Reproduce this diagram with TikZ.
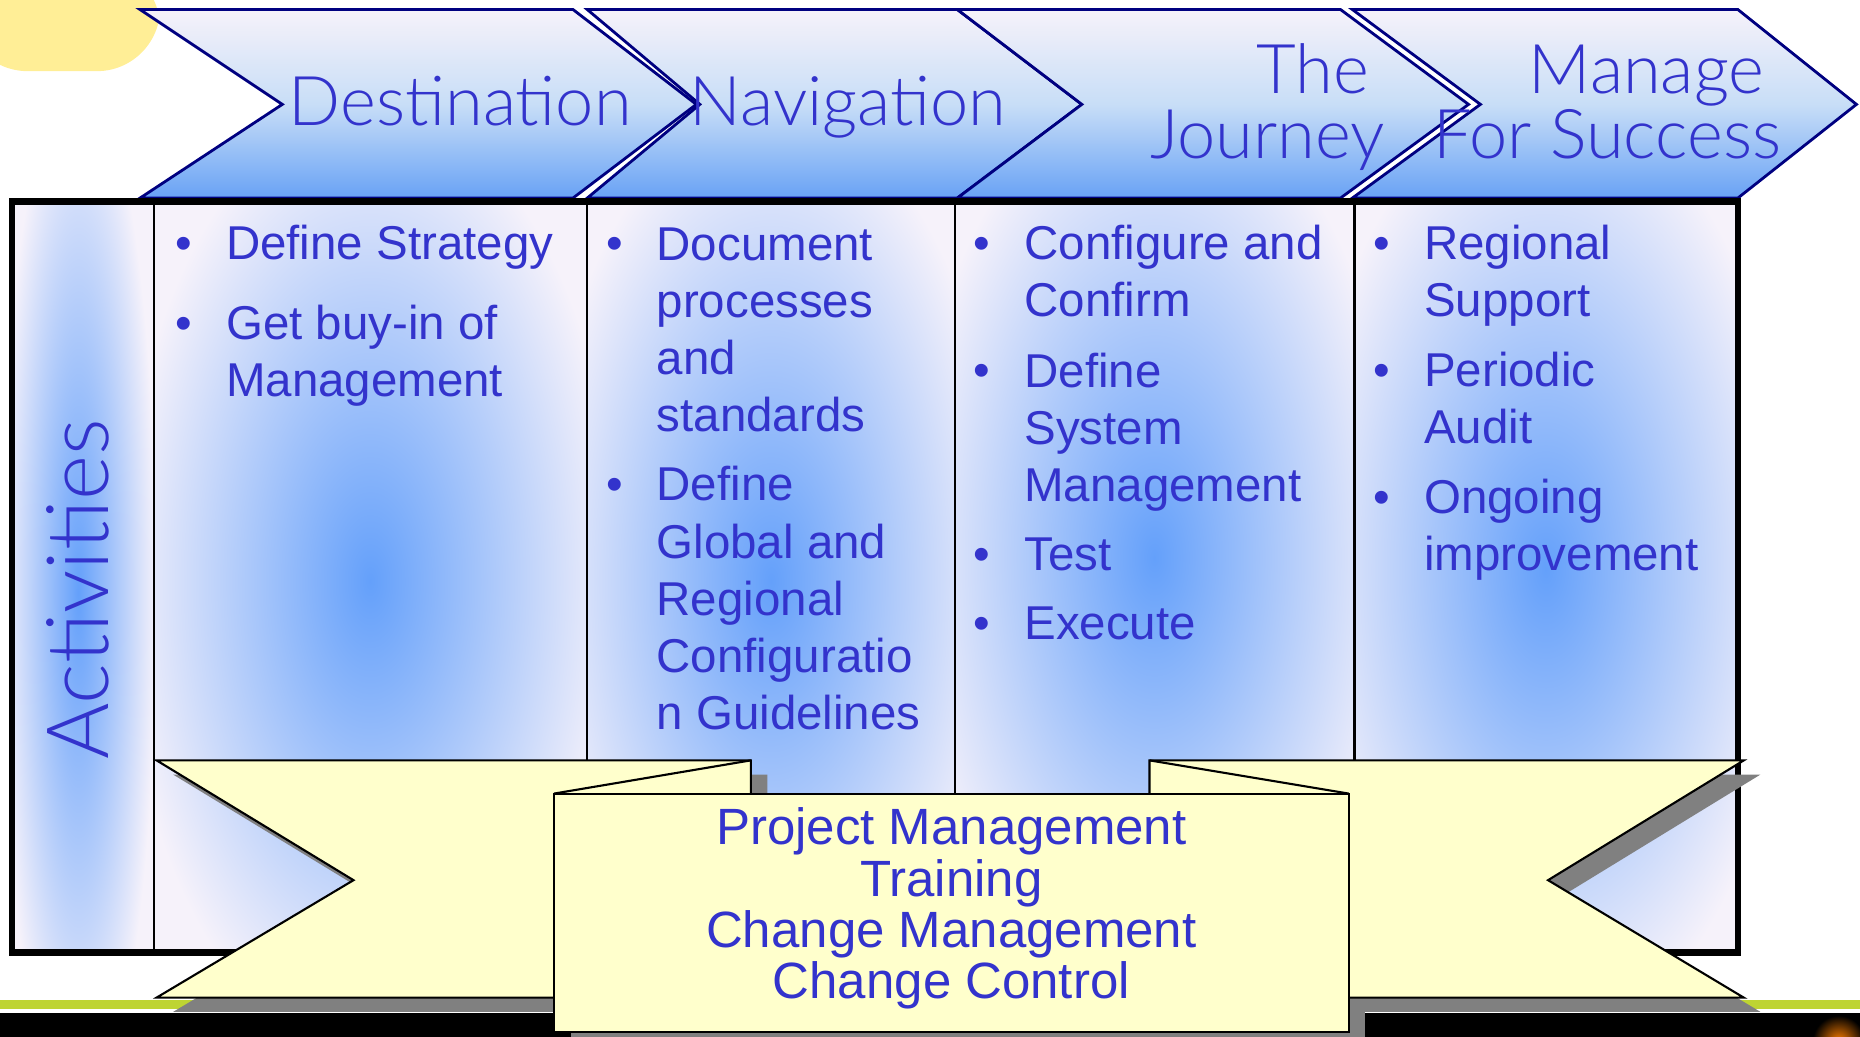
\documentclass[tikz,border=0pt]{standalone}
\usepackage{fontspec}
\setmainfont{Liberation Sans}
\newfontfamily\lightfont{Lato Light}
\usetikzlibrary{positioning}

\definecolor{txtblue}{RGB}{51,51,204}
\definecolor{navyline}{RGB}{0,0,128}
\definecolor{lav}{RGB}{246,242,250}
\definecolor{blob}{RGB}{100,160,250}
\definecolor{chevmid}{RGB}{200,222,247}
\definecolor{chevbot}{RGB}{105,162,245}
\definecolor{ribbonyellow}{RGB}{255,255,204}
\definecolor{shadowgray}{RGB}{128,128,128}
\definecolor{stripe}{RGB}{190,212,50}
\definecolor{sand}{RGB}{255,238,150}

\begin{document}
\begin{tikzpicture}[x=0.011862cm,y=-0.011862cm,
  chev/.style={draw=navyline,line width=0.8pt,top color=lav,bottom color=chevbot,middle color=chevmid},
  headtext/.style={text=txtblue,font=\lightfont\fontsize{19.5}{19.5}\selectfont,inner sep=0pt},
  itemtext/.style={text=txtblue,font=\fontsize{13.5}{16.25}\selectfont,align=left,anchor=base west,inner sep=0pt},
  bul/.style={text=txtblue,font=\fontsize{13.5}{16.25}\selectfont,anchor=base,inner sep=0pt},
  boxtext/.style={text=txtblue,font=\fontsize{14.5}{14.6}\selectfont,align=center,inner sep=0pt},
  ribbon/.style={fill=ribbonyellow,draw=black,line width=0.6pt},
  ribshadow/.style={fill=shadowgray,shift={(14,12)}}]

\useasboundingbox (0,0) rectangle (1568,874);
\fill[sand,rounded corners=18] (-30,-30) rectangle (135,60);

\foreach \l/\n/\r/\t in {118/238/483/587,495/590/807/912,807/912/1130/1238,1140/1248/1465/1565}
  \draw[chev] (\l,8) -- (\r,8) -- (\t,88) -- (\r,167) -- (\l,167) -- (\n,88) -- cycle;

\node[headtext,anchor=base] (dest) at (388,106) {Destination};
\node[headtext,anchor=base] (nav) at (715,106) {Navigation};
\node[headtext,anchor=base east] (the) at (1155,79) {The};
\node[headtext,anchor=base east] (journey) at (1168,134) {Journey};
\node[headtext,anchor=base east] (manage) at (1488,79) {Manage};
\node[headtext,anchor=base east] (success) at (1502,134) {For Success};

\foreach \a/\b/\cx/\cy/\rx/\ry in {10/130/66/500/66/440,130/495/312/490/210/400,495/805/650/490/200/400,805/1142/973/470/210/400,1142/1465/1303/480/210/400}{
  \fill[lav] (\a,170) rectangle (\b,803);
  \begin{scope}
    \clip (\a,170) rectangle (\b,803);
    \shade[inner color=blob,outer color=lav] (\cx,\cy) ellipse [x radius=\rx,y radius=\ry];
  \end{scope}
}
\foreach \a in {130,495,805,1142}
  \draw[line width=0.7pt] (\a,170) -- (\a,803);
\draw[line width=1.8pt] (10,170) rectangle (1465,803);

\node[rotate=90,text=txtblue,font=\lightfont\fontsize{24.5}{24.5}\selectfont,inner sep=0pt] (act) at (66,497) {Activities};

\foreach \x/\y/\z/\txt [count=\i] in {190/219/219/{Define Strategy},190/286/334/{Get buy-in of\\Management},
  553/219/364/{Document\\processes\\and\\standards},553/422/615/{Define\\Global and\\Regional\\Configuratio\\n Guidelines},
  863/219/267/{Configure and\\Confirm},863/326/423/{Define\\System\\Management},863/481/481/{Test},863/539/539/{Execute},
  1200/219/267/{Regional\\Support},1200/326/374/{Periodic\\Audit},1200/433/481/{Ongoing\\improvement}}{
  \node[bul] (dot\i) at (\x-35,\y) {\textbullet};
  \node[itemtext] (item\i) at (\x,\z) {\txt};
}

\fill[stripe] (0,843) rectangle (1568,851);
\fill[black] (0,854) rectangle (1568,874);
\begin{scope}
  \clip (1500,854) rectangle (1568,874);
  \shade[inner color=orange,outer color=black] (1550,878) circle (22);
\end{scope}

\fill[ribshadow] (132,641) -- (633,641) -- (633,841) -- (132,841) -- (298,742) -- cycle;
\fill[ribshadow] (969,641) -- (1470,641) -- (1305,742) -- (1470,841) -- (969,841) -- cycle;
\fill[ribshadow] (467,669) rectangle (1137,870);
\draw[ribbon] (132,641) -- (633,641) -- (633,841) -- (132,841) -- (298,742) -- cycle;
\draw[ribbon] (969,641) -- (1470,641) -- (1305,742) -- (1470,841) -- (969,841) -- cycle;
\draw[line width=0.6pt] (467,669) -- (633,641);
\draw[line width=0.6pt] (969,641) -- (1137,669);
\draw[ribbon] (467,669) rectangle (1137,870);

\node[boxtext] (pm) at (802,766) {Project Management\\Training\\Change Management\\Change Control};

\end{tikzpicture}
\end{document}
